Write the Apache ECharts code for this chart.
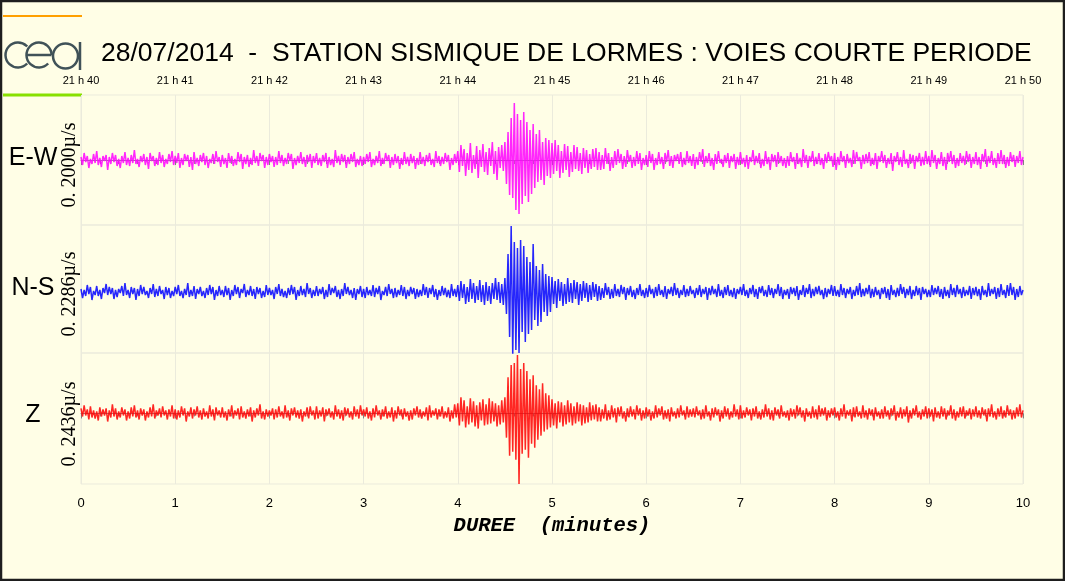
<!DOCTYPE html>
<html>
<head>
<meta charset="utf-8">
<title>Station sismique de Lormes</title>
<script src="https://cdn.jsdelivr.net/npm/echarts@6/dist/echarts.min.js"></script>
<style>
  html, body { margin: 0; padding: 0; background: #fffee6; }
  #chart { width: 1065px; height: 581px; }
</style>
</head>
<body>
<div id="chart"></div>
<script>
// 60 samples per minute, 0 -> 10 min (amplitudes, up is positive)
const samplesPerMinute = 60;

const timeLabels = ["21 h 40", "21 h 41", "21 h 42", "21 h 43", "21 h 44", "21 h 45",
    "21 h 46", "21 h 47", "21 h 48", "21 h 49", "21 h 50"];

const channels = ["E-W", "N-S", "Z"];
const scaleLabels = ["0. 2000\u00b5/s", "0. 2286\u00b5/s", "0. 2436\u00b5/s"];

// one line = half a minute
const traceEW = [
    3,-5,7,-2,4,-8,1,-4,6,-3, 9,-5,2,-7,4,-1,5,-10,3,-4, 7,-2,5,-6,1,-8,4,-3,8,-5,
    2,-6,5,-3,10,-4,1,-7,4,-2, 6,-5,3,-9,7,-1,4,-6,2,-5, 8,-3,5,-7,1,-4,6,-2,9,-5,
    4,-3,7,-8,2,-5,6,-1,5,-7, 3,-10,8,-4,2,-6,5,-2,7,-5, 4,-8,1,-3,6,-4,9,-2,3,-7,
    5,-4,2,-8,7,-3,4,-6,1,-5, 8,-2,6,-9,3,-4,5,-7,2,-5, 10,-3,4,-6,7,-1,5,-8,3,-5,
    6,-2,4,-7,3,-5,9,-3,5,-6, 2,-4,7,-1,6,-9,2,-5,4,-3, 8,-4,3,-7,5,-2,6,-8,4,-3,
    7,-5,2,-6,5,-2,7,-8,3,-5, 1,-7,10,-3,4,-5,6,-2,5,-8, 3,-4,6,-2,8,-7,1,-5,4,-6,
    3,-4,6,-2,8,-7,1,-5,4,-3, 9,-6,2,-4,7,-1,5,-8,3,-5, 6,-3,4,-9,2,-5,8,-4,3,-6,
    6,-3,4,-9,2,-5,8,-4,3,-6, 5,-2,7,-5,1,-7,9,-3,4,-6, 3,-4,7,-2,5,-10,2,-5,6,-3,
    9,-12,15,-6,11,-16,7,-10,17,-13, 5,-9,14,-18,10,-7,16,-12,8,-15, 12,-6,18,-14,9,-20,13,-8,15,-11,
    18,-24,28,-35,42,-38,57,-50,46,-54, 40,-44,48,-36,38,-42,30,-34,36,-28, 26,-22,30,-20,18,-25,22,-16,20,-18,
    17,-14,20,-11,15,-18,9,-13,16,-10, 14,-17,8,-12,15,-9,13,-11,7,-14, 12,-8,10,-13,6,-9,11,-7,12,-10,
    8,-10,5,-9,12,-4,7,-11,3,-8, 9,-5,11,-3,6,-9,4,-7,10,-2, 5,-8,3,-6,9,-4,7,-10,2,-5,
    5,-7,9,-3,6,-10,2,-5,8,-4, 3,-9,7,-2,10,-6,4,-8,5,-1, 6,-4,8,-7,2,-5,9,-3,4,-6,
    6,-9,3,-5,8,-2,11,-7,4,-3, 7,-6,2,-10,6,-4,9,-3,1,-7, 5,-3,7,-8,4,-2,6,-9,3,-5,
    8,-4,2,-7,5,-9,3,-2,10,-5, 4,-3,7,-8,1,-6,9,-4,3,-10, 6,-2,5,-7,8,-3,4,-6,2,-8,
    4,-6,8,-2,3,-9,7,-4,2,-7, 11,-3,5,-8,4,-2,9,-6,3,-4, 7,-5,2,-9,6,-3,8,-1,4,-7,
    7,-10,3,-5,9,-2,4,-8,6,-3, 2,-7,10,-4,8,-1,3,-9,5,-4, 6,-3,8,-6,2,-5,7,-9,4,-2,
    9,-3,5,-8,2,-4,7,-11,4,-2, 8,-5,3,-7,10,-4,1,-8,6,-3, 5,-9,4,-2,7,-6,3,-5,9,-4,
    4,-7,10,-3,5,-9,2,-4,8,-6, 3,-10,7,-2,9,-4,5,-8,2,-6, 7,-3,4,-5,9,-2,6,-8,3,-4,
    8,-5,3,-9,6,-2,11,-7,4,-3, 9,-5,2,-8,7,-4,10,-4,5,-8, 3,-6,8,-2,5,-7,4,-3,9,-5,
    3
];

const traceNS = [
    3,-6,2,-4,7,-2,5,-8,1,-3, 6,-4,2,-7,4,-1,8,-3,5,-2, 4,-7,2,-5,3,-1,6,-4,9,-3,
    2,-6,5,-2,4,-8,3,-4,7,-2, 5,-3,1,-6,4,-2,8,-5,3,-4, 6,-2,2,-7,5,-3,4,-6,1,-4,
    5,-2,7,-4,1,-6,3,-3,9,-5, 2,-4,6,-7,3,-2,5,-4,1,-6, 4,-3,7,-2,5,-8,2,-4,6,-3,
    2,-5,6,-3,4,-8,2,-4,7,-2, 5,-6,3,-1,8,-5,2,-3,6,-4, 3,-7,5,-2,4,-6,1,-5,7,-3,
    4,-3,2,-7,5,-2,8,-4,3,-5, 1,-6,4,-3,7,-2,5,-8,2,-4, 6,-3,3,-5,9,-2,4,-6,2,-4,
    6,-4,3,-2,5,-7,2,-5,8,-3, 4,-1,6,-5,2,-7,3,-4,9,-2, 5,-3,2,-6,4,-8,3,-2,6,-5,
    3,-6,5,-3,2,-4,7,-5,4,-2, 6,-8,1,-3,5,-4,8,-2,3,-6, 4,-5,2,-3,7,-4,5,-7,2,-4,
    5,-2,4,-7,3,-5,2,-4,8,-3, 5,-6,4,-2,7,-5,3,-8,2,-4, 6,-3,4,-5,2,-6,8,-4,3,-5,
    7,-9,11,-6,8,-12,5,-10,13,-7, 9,-11,6,-8,12,-10,7,-13,10,-9, 6,-12,9,-7,14,-8,10,-11,8,-13,
    14,-22,38,-45,66,-63,50,-58,44,-61, 52,-40,46,-50,35,-42,30,-38,48,-28, 26,-34,22,-30,28,-20,18,-24,16,-20,
    15,-12,11,-16,13,-9,10,-14,8,-12, 14,-10,9,-11,12,-7,10,-13,8,-9, 11,-6,9,-10,7,-8,10,-5,8,-9,
    6,-8,4,-6,9,-3,5,-7,3,-6, 8,-4,3,-5,7,-2,5,-8,4,-3, 6,-5,2,-7,4,-3,8,-4,2,-6,
    4,-5,7,-2,3,-6,5,-4,8,-3, 2,-5,6,-7,3,-2,5,-4,9,-3, 4,-6,2,-3,7,-5,3,-4,6,-2,
    2,-6,4,-3,7,-5,3,-2,5,-8, 4,-3,6,-2,3,-5,8,-4,2,-6, 5,-3,7,-4,2,-5,4,-7,3,-2,
    5,-3,8,-4,2,-6,4,-2,7,-5, 3,-7,5,-1,6,-4,2,-5,7,-3, 4,-6,3,-2,8,-4,5,-7,2,-3,
    3,-7,5,-2,4,-4,6,-8,2,-3, 7,-5,4,-2,8,-6,3,-4,5,-2, 6,-3,2,-7,4,-5,3,-2,7,-4,
    6,-4,2,-5,8,-3,4,-6,3,-2, 5,-7,2,-4,6,-3,9,-5,3,-4, 4,-2,7,-6,3,-5,5,-3,2,-7,
    4,-2,5,-6,3,-8,7,-3,2,-5, 4,-4,8,-2,5,-6,3,-3,6,-7, 2,-4,6,-3,4,-8,5,-2,3,-5,
    2,-5,7,-3,4,-2,6,-5,3,-7, 5,-4,2,-6,8,-3,4,-5,7,-2, 3,-6,5,-4,2,-3,6,-7,4,-3,
    5,-4,3,-8,6,-3,2,-5,9,-4, 3,-2,5,-7,4,-5,8,-3,2,-6, 7,-4,9,-3,5,-8,3,-5,6,-3,
    2
];

const traceZ = [
    5,-3,8,-2,4,-6,7,-4,3,-5, 2,-7,6,-3,4,-2,5,-8,3,-4, 9,-3,5,-6,2,-4,6,-2,4,-7,
    2,-5,6,-3,8,-4,3,-6,5,-2, 4,-7,2,-4,6,-3,9,-5,3,-2, 5,-4,7,-2,3,-6,4,-3,8,-5,
    4,-6,3,-4,7,-2,5,-8,2,-3, 6,-5,4,-2,7,-4,3,-6,5,-3, 2,-5,8,-3,4,-7,6,-2,3,-4,
    6,-4,2,-7,4,-3,8,-5,3,-2, 5,-6,7,-4,2,-5,4,-3,6,-8, 3,-4,5,-2,9,-5,2,-6,4,-3,
    3,-2,5,-6,4,-4,7,-3,2,-5, 8,-4,3,-7,5,-2,6,-4,3,-5, 4,-8,2,-3,6,-5,7,-2,3,-6,
    7,-5,3,-3,6,-8,4,-2,5,-4, 2,-6,8,-3,4,-5,3,-7,6,-2, 5,-4,2,-6,7,-3,4,-5,8,-2,
    4,-3,6,-5,2,-7,5,-4,8,-2, 3,-6,4,-3,7,-5,2,-4,6,-8, 3,-5,7,-2,4,-6,5,-3,2,-7,
    3,-6,5,-2,7,-4,4,-5,2,-3, 6,-7,8,-4,3,-2,5,-6,4,-3, 7,-5,2,-4,6,-8,3,-5,9,-4,
    10,-12,16,-8,13,-14,7,-11,15,-9, 12,-13,8,-15,11,-7,14,-12,9,-11, 15,-10,12,-8,10,-13,8,-11,13,-9,
    16,-24,36,-42,48,-38,50,-46,58,-70, 44,-40,50,-36,42,-44,34,-30,38,-34, 28,-26,24,-22,30,-18,20,-16,18,-14,
    14,-12,10,-15,12,-9,11,-13,8,-11, 13,-9,10,-12,7,-10,11,-8,9,-12, 8,-10,6,-9,11,-7,8,-6,9,-8,
    6,-8,4,-5,9,-7,3,-6,8,-4, 5,-9,6,-3,7,-5,2,-8,5,-4, 7,-3,4,-6,8,-2,5,-7,3,-5,
    6,-3,4,-7,2,-5,8,-4,5,-2, 7,-6,3,-5,4,-8,6,-3,2,-5, 5,-4,8,-2,3,-6,7,-4,4,-3,
    5,-4,7,-2,3,-6,4,-5,8,-3, 2,-7,5,-4,6,-2,4,-8,3,-5, 7,-3,5,-6,2,-4,9,-3,4,-6,
    8,-5,3,-4,6,-2,4,-7,5,-3, 7,-5,2,-6,4,-4,9,-3,5,-6, 3,-7,6,-2,4,-5,8,-3,2,-4,
    3,-7,5,-3,4,-5,8,-2,6,-4, 3,-8,5,-3,2,-5,7,-4,4,-6, 8,-3,5,-2,6,-7,3,-4,5,-2,
    6,-4,2,-7,5,-3,9,-5,3,-2, 4,-8,6,-4,7,-3,2,-5,8,-4, 3,-6,5,-2,4,-7,6,-3,2,-5,
    4,-5,7,-3,3,-6,5,-2,8,-7, 2,-4,6,-5,4,-3,7,-9,3,-5, 5,-2,8,-4,2,-6,4,-3,7,-5,
    5,-3,4,-8,6,-4,2,-5,7,-3, 5,-6,3,-2,8,-5,4,-7,2,-4, 6,-3,7,-5,3,-2,5,-6,4,-3,
    7,-4,3,-5,6,-2,4,-8,5,-3, 9,-4,2,-6,5,-3,7,-5,3,-4, 8,-2,4,-6,3,-5,6,-3,9,-4,
    3
];

const traces = [traceEW, traceNS, traceZ];
const traceColors = ["#ff00ff", "#0000ff", "#ff0000"];
const yRanges = [[-65, 65], [-61, 67], [-70, 60]];

const gridLine = "#ebebdc";
const font = "Liberation Sans";

const chart = echarts.init(document.getElementById("chart"));

const grids = [
    { left: 81, right: 42, top: 95, height: 130 },
    { left: 81, right: 42, top: 225, height: 128 },
    { left: 81, right: 42, top: 353, height: 131 }
].map(g => Object.assign(g, { show: true, borderColor: gridLine, borderWidth: 1 }));

const xAxes = [
    {
        gridIndex: 0, type: "value", position: "top", min: 0, max: 10, interval: 1,
        axisLine: { lineStyle: { color: "#8c8c8c" } },
        axisTick: { inside: true, length: 5, lineStyle: { color: "#808080" } },
        minorTick: { show: true, splitNumber: 5, length: 4, lineStyle: { color: "#909090" } },
        axisLabel: { formatter: v => timeLabels[v], fontSize: 11, color: "#000", margin: 9, fontFamily: font },
        splitLine: { show: true, lineStyle: { color: gridLine } }
    },
    {
        gridIndex: 1, type: "value", min: 0, max: 10, interval: 1,
        axisLine: { show: false }, axisTick: { show: false }, axisLabel: { show: false },
        splitLine: { show: true, lineStyle: { color: gridLine } }
    },
    {
        gridIndex: 2, type: "value", position: "bottom", min: 0, max: 10, interval: 1,
        axisLine: { lineStyle: { color: "#8c8c8c" } },
        axisTick: { length: 5, lineStyle: { color: "#808080" } },
        minorTick: { show: true, splitNumber: 5, length: 3, lineStyle: { color: "#909090" } },
        axisLabel: { fontSize: 13, color: "#000", margin: 13, fontFamily: font },
        splitLine: { show: true, lineStyle: { color: gridLine } },
        name: "DUREE  (minutes)", nameLocation: "middle", nameGap: 32,
        nameTextStyle: { fontFamily: "Liberation Mono", fontStyle: "italic", fontWeight: "bold", fontSize: 20.5, color: "#000" }
    }
];

const yAxes = yRanges.map((r, i) => ({
    gridIndex: i, type: "value", min: r[0], max: r[1],
    axisLine: { show: false }, axisTick: { show: false }, axisLabel: { show: false }, splitLine: { show: false }
}));

const series = traces.map((t, i) => ({
    type: "line",
    xAxisIndex: i, yAxisIndex: i,
    data: t.map((v, k) => [k / samplesPerMinute, v]),
    showSymbol: false,
    silent: true,
    lineStyle: { width: 1.5, color: traceColors[i], opacity: 0.85, join: "bevel" }
}));

const labelY = [158, 288, 415];
const scaleY = [165, 294, 424];
const logoColor = "#405258";

const graphic = [
    { type: "rect", shape: { x: 1, y: 1, width: 1063, height: 579 }, style: { fill: null, stroke: "#1e1e1e", lineWidth: 2.5 }, z: 10 },
    { type: "line", shape: { x1: 3, y1: 16, x2: 82, y2: 16 }, style: { stroke: "#ffa000", lineWidth: 2 } },
    { type: "line", shape: { x1: 3, y1: 95, x2: 82, y2: 95 }, style: { stroke: "#88e000", lineWidth: 3 } },
    // cea logo
    { type: "arc", shape: { cx: 18, cy: 55, r: 12.5, startAngle: 0.75, endAngle: Math.PI * 2 - 0.75 }, style: { stroke: logoColor, lineWidth: 2.5, fill: null } },
    { type: "arc", shape: { cx: 39, cy: 55, r: 12.5, startAngle: 0.75, endAngle: Math.PI * 2 }, style: { stroke: logoColor, lineWidth: 2.5, fill: null } },
    { type: "line", shape: { x1: 26.5, y1: 55, x2: 51.5, y2: 55 }, style: { stroke: logoColor, lineWidth: 2.5 } },
    { type: "circle", shape: { cx: 65.5, cy: 56, r: 12.5 }, style: { stroke: logoColor, lineWidth: 2.5, fill: null } },
    { type: "line", shape: { x1: 80, y1: 42, x2: 80, y2: 70 }, style: { stroke: logoColor, lineWidth: 2.5 } },
    {
        type: "text", x: 101, y: 54,
        style: { text: "28/07/2014  -  STATION SISMIQUE DE LORMES : VOIES COURTE PERIODE", font: "26.5px " + font, fill: "#000", textVerticalAlign: "middle" }
    }
];

channels.forEach((c, i) => {
    graphic.push({
        type: "text", x: 33, y: labelY[i],
        style: { text: c, font: "25px " + font, fill: "#000", textAlign: "center", textVerticalAlign: "middle" }
    });
    graphic.push({
        type: "text", x: 70, y: scaleY[i], rotation: Math.PI / 2,
        style: { text: scaleLabels[i], font: "20px 'Liberation Serif'", fill: "#000", textAlign: "center", textVerticalAlign: "middle" }
    });
});

chart.setOption({
    backgroundColor: "#fffee6",
    animation: false,
    grid: grids,
    xAxis: xAxes,
    yAxis: yAxes,
    series: series,
    graphic: graphic
});
</script>
</body>
</html>
